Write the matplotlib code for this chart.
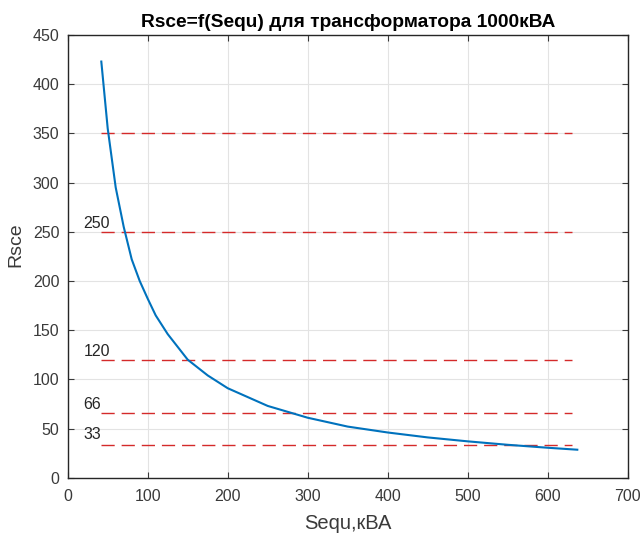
import matplotlib
matplotlib.use("Agg")
import matplotlib.pyplot as plt

plt.rcParams['font.family'] = ['Liberation Sans', 'DejaVu Sans']

S = [42, 50, 60, 70, 80, 90, 100, 110, 125, 150, 175, 200, 250, 300, 350, 400, 450, 500, 550, 600, 637]
R = [423, 355, 295, 255, 222, 200, 182, 165, 146, 120, 104, 91, 73, 61, 52, 46, 41, 37, 33.5, 30.5, 28.5]

levels = [350, 250, 120, 66, 33]
level_labels = ['', '250', '120', '66', '33']
line_x = [42, 630]
label_x = 20

title = 'Rsce=f(Sequ) для трансформатора 1000кВА'
xlabel = 'Sequ,кВА'
ylabel = 'Rsce'

fig = plt.figure(figsize=(6.43, 5.35), dpi=100)
ax = fig.add_axes([0.1053, 0.107, 0.8709, 0.8276])

for lv, lb in zip(levels, level_labels):
    ax.plot(line_x, [lv, lv], color='#d42a2a', linestyle=(0, (9.5, 5)), linewidth=1.0, zorder=2)
    if lb:
        off = 11 if lv < 50 else 8
        ax.text(label_x, lv + off, lb, fontsize=11.5, color='#262626', va='center', ha='left')

ax.plot(S, R, color='#0072BD', linewidth=1.5, zorder=3)

ax.set_xlim(0, 700)
ax.set_ylim(0, 450)
ax.set_xticks(range(0, 701, 100))
ax.set_yticks(range(0, 451, 50))
ax.grid(True, color='#e3e3e3', linewidth=0.8)
ax.set_axisbelow(True)
ax.tick_params(axis='both', direction='in', length=4, labelsize=11.5, colors='#3a3a3a', top=True, right=True)
ax.tick_params(axis='x', pad=8)
ax.tick_params(axis='y', pad=6)
for sp in ax.spines.values():
    sp.set_color('#262626')
    sp.set_linewidth(1.0)
ax.set_title(title, fontsize=13.8, fontweight='bold', color='black', pad=6)
ax.set_xlabel(xlabel, fontsize=14.5, color='#3a3a3a', labelpad=7)
ax.set_ylabel(ylabel, fontsize=14, color='#3a3a3a')
ax.yaxis.set_label_coords(-0.077, 0.526)

fig.savefig('out.png', dpi=100)
